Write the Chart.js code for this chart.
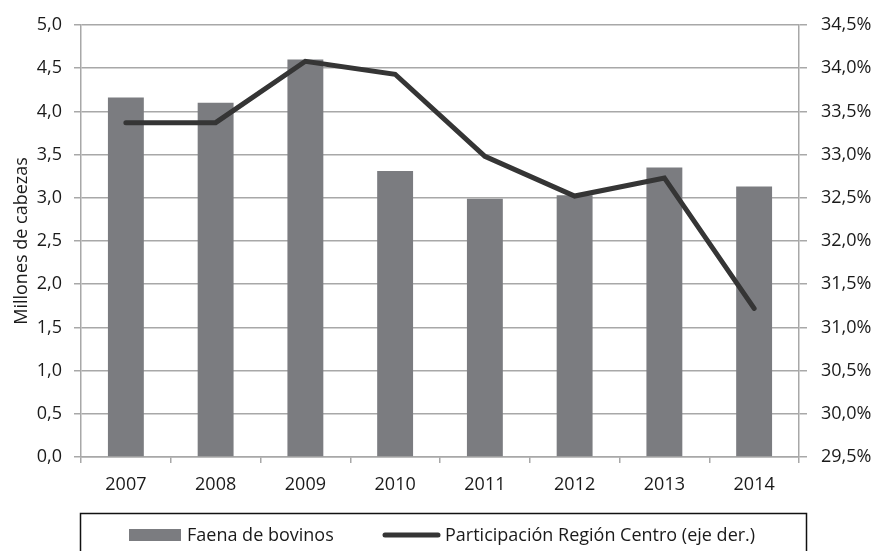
<!DOCTYPE html>
<html><head><meta charset="utf-8">
<script src="https://cdn.jsdelivr.net/npm/chart.js@4"></script>
<style>html,body{margin:0;padding:0;background:#fff}#wrap{width:874px;height:551px}</style>
</head><body><div id="wrap"><canvas id="c" width="874" height="551"></canvas></div>
<script>
const years = ['2007','2008','2009','2010','2011','2012','2013','2014'];
const faena = [4.16, 4.10, 4.60, 3.31, 2.99, 3.03, 3.35, 3.13];
const participacion = [33.37, 33.37, 34.08, 33.93, 32.98, 32.52, 32.73, 31.22];
const leftTicks = [0,0.5,1,1.5,2,2.5,3,3.5,4,4.5,5];
const rightTicks = [29.5,30,30.5,31,31.5,32,32.5,33,33.5,34,34.5];

const FONT = 'Open Sans';
const FS = 18;
const txt = '#1a1a1a';
const gridCol = '#a8a8a8';

const legendPlugin = {
  id: 'boxLegend',
  afterDraw(chart) {
    const ctx = chart.ctx;
    ctx.save();
    ctx.strokeStyle = '#111';
    ctx.lineWidth = 1.5;
    ctx.strokeRect(80.5, 513.5, 726, 50);
    ctx.font = FS + 'px "' + FONT + '"';
    ctx.fillStyle = txt;
    ctx.textBaseline = 'middle';
    const ds = chart.data.datasets;
    ctx.fillStyle = ds[0].backgroundColor;
    ctx.fillRect(129, 529, 52, 12);
    ctx.fillStyle = txt;
    ctx.fillText(ds[0].label, 187, 536);
    ctx.strokeStyle = ds[1].borderColor;
    ctx.lineWidth = 5;
    ctx.lineCap = 'round';
    ctx.beginPath(); ctx.moveTo(385, 535); ctx.lineTo(438, 535); ctx.stroke();
    ctx.fillText(ds[1].label, 445, 536);
    ctx.restore();
  }
};

new Chart(document.getElementById('c'), {
  type: 'bar',
  data: {
    labels: years,
    datasets: [
      { type: 'bar', label: 'Faena de bovinos', data: faena, backgroundColor: '#7b7c80',
        yAxisID: 'y', order: 2, categoryPercentage: 1.0, barPercentage: 0.4 },
      { type: 'line', label: 'Participación Región Centro (eje der.)', data: participacion,
        borderColor: '#353535', borderWidth: 5, pointRadius: 0, tension: 0, fill: false,
        borderCapStyle: 'round', borderJoinStyle: 'miter', yAxisID: 'y1', order: 1 }
    ]
  },
  options: {
    responsive: false,
    animation: false,
    devicePixelRatio: 1,
    layout: { padding: { top: 25, left: 0, right: 0, bottom: 0 } },
    plugins: { legend: { display: false }, tooltip: { enabled: false } },
    scales: {
      x: {
        offset: true,
        grid: { offset: true, drawOnChartArea: false, drawTicks: true, tickLength: 6, color: gridCol, lineWidth: 1.5 },
        border: { color: gridCol, width: 1.5 },
        ticks: { color: txt, font: { family: FONT, size: FS }, padding: 11, maxRotation: 0 },
        afterFit(s) { s.height = 94; }
      },
      y: {
        position: 'left', min: 0, max: 5,
        afterBuildTicks(s) { s.ticks = leftTicks.map(v => ({ value: v })); },
        ticks: { color: txt, font: { family: FONT, size: FS }, padding: 12,
          callback: v => v.toFixed(1).replace('.', ',') },
        grid: { color: gridCol, lineWidth: 1.5, tickLength: 7 },
        border: { color: gridCol, width: 1.5 },
        title: { display: true, text: 'Millones de cabezas', color: txt, font: { family: FONT, size: FS }, padding: { top: 11, bottom: 0 } },
        afterFit(s) { s.width = 81; }
      },
      y1: {
        position: 'right', min: 29.5, max: 34.5,
        afterBuildTicks(s) { s.ticks = rightTicks.map(v => ({ value: v })); },
        ticks: { color: txt, font: { family: FONT, size: FS }, padding: 14,
          callback: v => v.toFixed(1).replace('.', ',') + '%' },
        grid: { drawOnChartArea: false, color: gridCol, lineWidth: 1.5, tickLength: 8 },
        border: { color: gridCol, width: 1.5 },
        afterFit(s) { s.width = 75; }
      }
    }
  },
  plugins: [legendPlugin]
});
</script></body></html>
